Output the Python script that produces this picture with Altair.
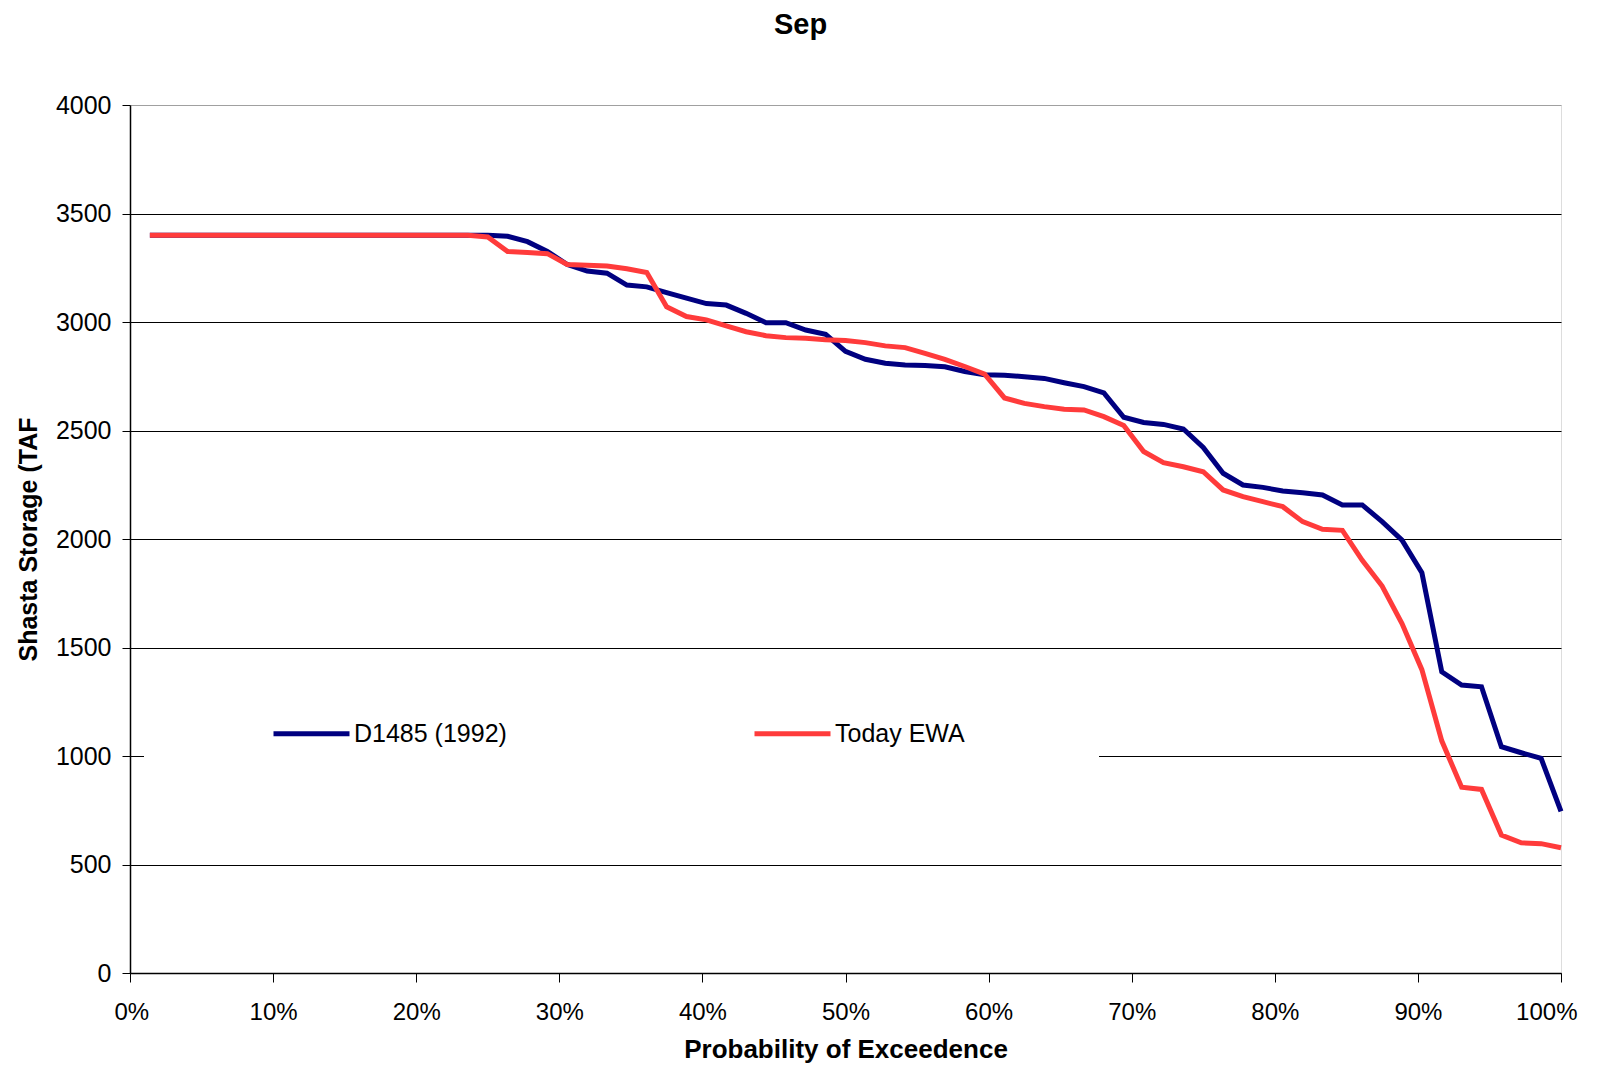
import altair as alt
import pandas as pd

FONT = "Liberation Sans, Arial, Helvetica, sans-serif"

n_years = 72
exceedance = [k / n_years for k in range(1, n_years + 1)]

series_names = ["D1485 (1992)", "Today EWA"]
series_colors = ["#000080", "#FF3B3B"]

d1485 = [3400] * 18 + [
    3395, 3370, 3325, 3265, 3235, 3225, 3170, 3162, 3135, 3110,
    3085, 3078, 3040, 2997, 2997, 2963, 2943, 2865, 2828, 2810,
    2802, 2800, 2794, 2772, 2757, 2755, 2748, 2740, 2720, 2702,
    2673, 2561, 2537, 2528, 2507, 2422, 2303, 2249, 2238, 2221,
    2213, 2203, 2157, 2157, 2080, 1995, 1845, 1388, 1327, 1319,
    1043, 1015, 989, 745,
]

today_ewa = [3400] * 17 + [
    3392, 3325, 3320, 3315, 3265, 3262, 3258, 3245, 3228, 3070,
    3025, 3010, 2982, 2955, 2937, 2928, 2925, 2918, 2915, 2905,
    2890, 2882, 2855, 2828, 2795, 2760, 2650, 2625, 2610, 2598,
    2595, 2564, 2523, 2403, 2352, 2333, 2310, 2226, 2195, 2172,
    2149, 2080, 2045, 2040, 1902, 1783, 1610, 1398, 1070, 856,
    846, 636, 600, 596, 577,
]

x_ticks = [i / 10 for i in range(11)]
y_ticks = list(range(0, 4001, 500))

rows = []
for p, v in zip(exceedance, d1485):
    rows.append({"prob": p, "storage": v, "series": series_names[0]})
for p, v in zip(exceedance, today_ewa):
    rows.append({"prob": p, "storage": v, "series": series_names[1]})
df = pd.DataFrame(rows)

x_enc = alt.X(
    "prob:Q",
    scale=alt.Scale(domain=[0, 1], nice=False),
    axis=alt.Axis(
        values=x_ticks, format=".0%", grid=False, title="Probability of Exceedence",
        tickSize=9, labelPadding=18, labelFontSize=24, labelFont=FONT,
        labelFlush=True, labelFlushOffset=16,
        titleFont=FONT, titleFontSize=26, titleFontWeight="bold", titlePadding=12,
        domainColor="black", tickColor="black", labelColor="black", titleColor="black",
        domainWidth=1.5, tickWidth=1,
    ),
)
y_enc = alt.Y(
    "storage:Q",
    scale=alt.Scale(domain=[0, 4000], nice=False),
    axis=alt.Axis(
        values=y_ticks, format="d", grid=True, title="Shasta Storage (TAF",
        gridColor=alt.condition("datum.value >= 4000", alt.value("#a0a0a0"), alt.value("black")),
        gridWidth=1,
        tickSize=8, labelPadding=11, labelFontSize=25, labelFont=FONT,
        titleFont=FONT, titleFontSize=25, titleFontWeight="bold", titlePadding=14,
        domainColor="black", tickColor="black", labelColor="black", titleColor="black",
        domainWidth=1.5, tickWidth=1,
    ),
)

color_enc = alt.Color(
    "series:N",
    scale=alt.Scale(domain=series_names, range=series_colors),
    legend=alt.Legend(
        orient="none", legendX=14, legendY=572, direction="horizontal",
        title=" ", titleOrient="right", titleFontSize=25, titlePadding=117,
        symbolType="stroke", symbolSize=5776, symbolStrokeWidth=5,
        symbolOffset=111,
        labelFont=FONT, labelFontSize=25, labelColor="black", labelOffset=2,
        labelLimit=600, columnPadding=134, padding=16,
        fillColor="white", strokeColor="white",
    ),
)

base = alt.Chart(df).encode(x=x_enc, y=y_enc, color=color_enc)
blue = base.transform_filter(alt.datum.series == series_names[0]).mark_line(strokeWidth=5)
red = base.transform_filter(alt.datum.series == series_names[1]).mark_line(strokeWidth=5)

chart = (
    alt.layer(blue, red)
    .properties(
        width=1431,
        height=868,
        padding={"left": 122, "top": 97, "right": 40, "bottom": 90},
        autosize=alt.AutoSizeParams(type="none"),
        title=alt.TitleParams(
            "Sep", font=FONT, fontSize=29, fontWeight="bold", color="black",
            anchor="middle", dx=-45, offset=53,
        ),
    )
    .configure_view(stroke="#a0a0a0", strokeWidth=2.5)
    .configure(background="white")
)

chart.save("out.html", embed_options={"renderer": "svg", "actions": False})
